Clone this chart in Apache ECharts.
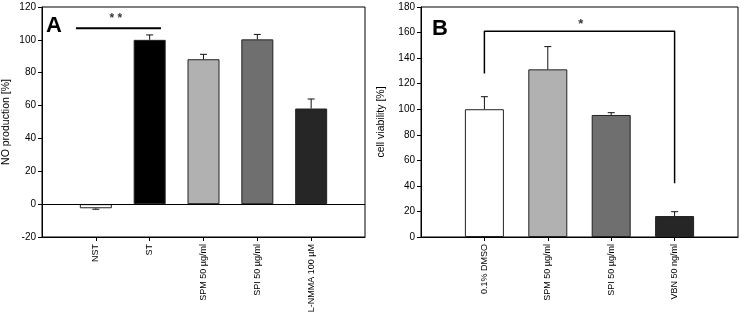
<!DOCTYPE html>
<html><head><meta charset="utf-8">
<script src="https://cdn.jsdelivr.net/npm/echarts@6/dist/echarts.min.js"></script>
<style>html,body{margin:0;padding:0;background:#fff}#c{width:745px;height:316px}</style>
</head><body><div id="c"></div>
<script>
// Panel A data
const catA = ['NST', 'ST', 'SPM 50 µg/ml', 'SPI 50 µg/ml', 'L-NMMA 100 µM'];
const valA = [-2.5, 100, 88.2, 100.3, 58.2];
const errA = [-0.6, 3, 3, 3, 5.8];
const colA = ['#ffffff', '#000000', '#b1b1b1', '#6f6f6f', '#262626'];
const ticksA = [-20, 0, 20, 40, 60, 80, 100, 120];
// Panel B data
const catB = ['0.1% DMSO', 'SPM 50 µg/ml', 'SPI 50 µg/ml', 'VBN 50 ng/ml'];
const valB = [100, 131.2, 95.5, 16.4];
const errB = [9.8, 17.8, 1.8, 3.4];
const colB = ['#ffffff', '#b1b1b1', '#6f6f6f', '#262626'];
const ticksB = [0, 20, 40, 60, 80, 100, 120, 140, 160, 180];
// Significance annotations (in axis units)
const sigALine = [[0.63, 107], [2.21, 107]];
const sigALabel = [[1.37, 113, '* *']];
const sigBLine = [[1, 128], [1, 161], [4, 161], [4, 42]];
const sigBLabel = [[2.52, 166, '*']];

const chart = echarts.init(document.getElementById('c'));
const FONT = 'Liberation Sans, Arial, sans-serif';

function catData(cats) { return ['', ...cats, '']; }
function barData(vals, cols) {
  const d = [null];
  vals.forEach((v, i) => d.push({ value: v, itemStyle: { color: cols[i] } }));
  d.push(null);
  return d;
}
function errData(vals, errs) {
  return vals.map((v, i) => [i + 1, v, v + errs[i]]);
}
function errRender(params, api) {
  const p0 = api.coord([api.value(0), api.value(1)]);
  const p1 = api.coord([api.value(0), api.value(2)]);
  const hw = 3.5;
  return {
    type: 'group',
    children: [
      { type: 'line', shape: { x1: p0[0], y1: p0[1], x2: p1[0], y2: p1[1] }, style: { stroke: '#111', lineWidth: 1 } },
      { type: 'line', shape: { x1: p1[0] - hw, y1: p1[1], x2: p1[0] + hw, y2: p1[1] }, style: { stroke: '#111', lineWidth: 1 } }
    ]
  };
}
function catAxis(grid, cats) {
  return {
    type: 'category', gridIndex: grid, data: catData(cats), boundaryGap: false,
    axisLine: { onZero: false, lineStyle: { color: '#000', width: 1 } },
    axisTick: { interval: (i, v) => v !== '', length: 4, lineStyle: { color: '#000' } },
    axisLabel: { interval: 0, rotate: 90, margin: 7, fontSize: 9, color: '#000', fontFamily: FONT },
    splitLine: { show: false }
  };
}
function valAxis(grid, min, max, name, gap) {
  return {
    type: 'value', gridIndex: grid, min: min, max: max, interval: 20,
    name: name, nameLocation: 'middle', nameGap: gap,
    nameTextStyle: { fontSize: 10.5, color: '#000', fontFamily: FONT },
    axisLine: { show: true, onZero: false, lineStyle: { color: '#000', width: 1 } },
    axisTick: { show: true, length: 4, lineStyle: { color: '#000' } },
    axisLabel: { fontSize: 10, color: '#000', margin: 6, fontFamily: FONT },
    splitLine: { show: false }
  };
}
const option = {
  animation: false,
  backgroundColor: '#fff',
  grid: [
    { left: 42, top: 7, width: 323, height: 230, show: true, borderColor: '#000', borderWidth: 1 },
    { left: 421, top: 7, width: 317, height: 230, show: true, borderColor: '#000', borderWidth: 1 }
  ],
  xAxis: [
    catAxis(0, catA),
    catAxis(1, catB),
    { type: 'value', gridIndex: 0, min: 0, max: catA.length + 1, show: false },
    { type: 'value', gridIndex: 1, min: 0, max: catB.length + 1, show: false }
  ],
  yAxis: [
    valAxis(0, ticksA[0], ticksA[ticksA.length - 1], 'NO production [%]', 30),
    valAxis(1, ticksB[0], ticksB[ticksB.length - 1], 'cell viability [%]', 34)
  ],
  graphic: [
    { type: 'text', left: 46, top: 15, style: { text: 'A', font: 'bold 22px ' + FONT, fill: '#000' } },
    { type: 'text', left: 432, top: 18, style: { text: 'B', font: 'bold 22px ' + FONT, fill: '#000' } }
  ],
  series: [
    {
      type: 'bar', xAxisIndex: 0, yAxisIndex: 0, barWidth: 32, data: barData(valA, colA),
      itemStyle: { borderColor: '#222', borderWidth: 1 },
      markLine: { silent: true, symbol: 'none', label: { show: false },
        lineStyle: { color: '#000', width: 1, type: 'solid' }, data: [{ yAxis: 0 }] }
    },
    { type: 'custom', xAxisIndex: 0, yAxisIndex: 0, renderItem: errRender, data: errData(valA, errA), z: 3 },
    {
      type: 'bar', xAxisIndex: 1, yAxisIndex: 1, barWidth: 39, data: barData(valB, colB),
      itemStyle: { borderColor: '#222', borderWidth: 1 }
    },
    { type: 'custom', xAxisIndex: 1, yAxisIndex: 1, renderItem: errRender, data: errData(valB, errB), z: 3 },
    { type: 'line', xAxisIndex: 2, yAxisIndex: 0, data: sigALine, symbol: 'none', lineStyle: { color: '#000', width: 2 } },
    { type: 'line', xAxisIndex: 3, yAxisIndex: 1, data: sigBLine, symbol: 'none', lineStyle: { color: '#000', width: 1.5 } },
    { type: 'scatter', xAxisIndex: 2, yAxisIndex: 0, data: sigALabel, symbolSize: 1, itemStyle: { color: 'rgba(0,0,0,0)' },
      label: { show: true, position: 'inside', formatter: p => p.data[2], fontSize: 12, fontWeight: 'bold', color: '#000', fontFamily: FONT } },
    { type: 'scatter', xAxisIndex: 3, yAxisIndex: 1, data: sigBLabel, symbolSize: 1, itemStyle: { color: 'rgba(0,0,0,0)' },
      label: { show: true, position: 'inside', formatter: p => p.data[2], fontSize: 13, fontWeight: 'bold', color: '#000', fontFamily: FONT } }
  ]
};
chart.setOption(option);
</script></body></html>
